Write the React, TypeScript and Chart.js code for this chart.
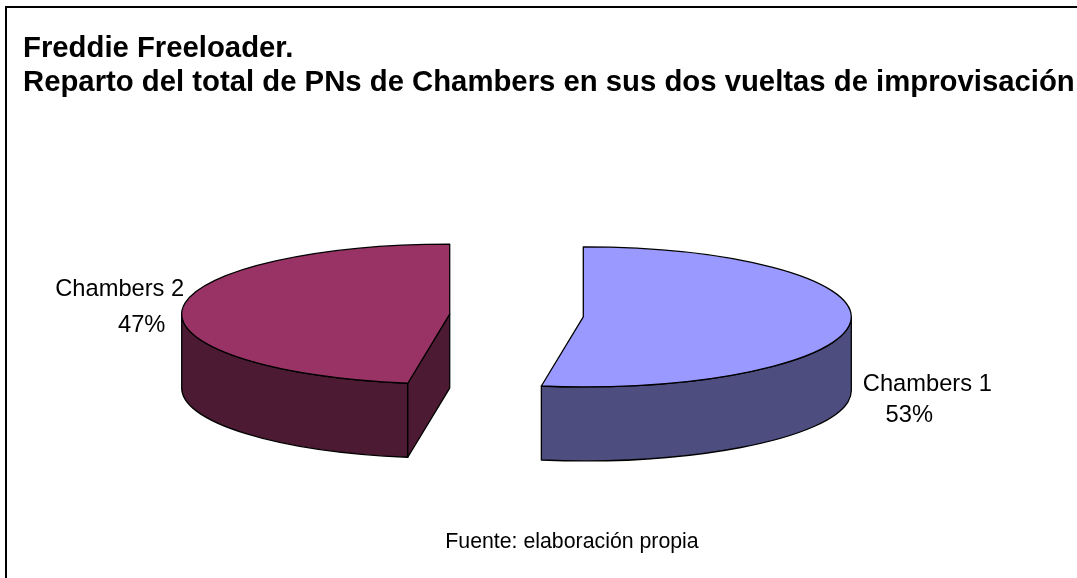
import React, { useEffect, useRef } from "react";
import { Chart, registerables } from "chart.js";

Chart.register(...registerables);

const categories = ["Chambers 1", "Chambers 2"];
const shares = [52.5, 47.5];
const percentLabels = ["53%", "47%"];
const titleLines = [
  "Freddie Freeloader.",
  "Reparto del total de PNs de Chambers en sus dos vueltas de improvisación",
];
const sourceNote = "Fuente: elaboración propia";
const topColors = ["#9999FF", "#993366"];
const wallColors = ["#4D4D80", "#4D1A33"];

const SQUASH = 70 / 268;
const DEPTH = 74;
const EXPLODE = 67;
const PIE_SHIFT = -33.5;
const FONT = '"Liberation Sans", Arial, sans-serif';
// label centre offsets, relative to the slice centre on screen
const nameOffsets = [
  [344, 67.5],
  [-330, -25],
];
const percentOffsets = [
  [326, 98.5],
  [-308, 11],
];

function geom(arc: any) {
  const { x, y, startAngle, endAngle, outerRadius } = arc.getProps(
    ["x", "y", "startAngle", "endAngle", "outerRadius"],
    true
  );
  const half = (startAngle + endAngle) / 2;
  return {
    x,
    y,
    cx: x + PIE_SHIFT + Math.cos(half) * EXPLODE,
    cy: y + Math.sin(half) * EXPLODE * SQUASH,
    rx: outerRadius,
    ry: outerRadius * SQUASH,
    a: startAngle,
    b: endAngle,
  };
}

const pie3d = {
  id: "pie3d",
  beforeDatasetDraw(chart: any) {
    const ctx = chart.ctx;
    const arcs = chart.getDatasetMeta(0).data;
    arcs.forEach((arc: any, i: number) => {
      const g = geom(arc);
      ctx.save();
      ctx.fillStyle = wallColors[i];
      ctx.strokeStyle = "#000";
      ctx.lineWidth = 1.3;
      ctx.lineJoin = "round";
      const from = Math.max(g.a, 0);
      const to = Math.min(g.b, Math.PI);
      if (to > from) {
        ctx.beginPath();
        ctx.ellipse(g.cx, g.cy, g.rx, g.ry, 0, from, to);
        ctx.ellipse(g.cx, g.cy + DEPTH, g.rx, g.ry, 0, to, from, true);
        ctx.closePath();
        ctx.fill();
        ctx.stroke();
      }
      const face = (t: number) => {
        const px = g.cx + Math.cos(t) * g.rx;
        const py = g.cy + Math.sin(t) * g.ry;
        ctx.beginPath();
        ctx.moveTo(g.cx, g.cy);
        ctx.lineTo(px, py);
        ctx.lineTo(px, py + DEPTH);
        ctx.lineTo(g.cx, g.cy + DEPTH);
        ctx.closePath();
        ctx.fill();
        ctx.stroke();
      };
      if (Math.cos(g.a) < -1e-6) face(g.a);
      if (Math.cos(g.b) > 1e-6) face(g.b);
      ctx.restore();

      // the slice's top: the library's own arc element, squashed and moved out
      ctx.save();
      ctx.translate(g.cx, g.cy);
      ctx.scale(1, SQUASH);
      ctx.translate(-g.x, -g.y);
      arc.draw(ctx);
      ctx.restore();

      ctx.save();
      ctx.strokeStyle = "#000";
      ctx.lineWidth = 1.3;
      ctx.lineJoin = "round";
      ctx.beginPath();
      ctx.moveTo(g.cx, g.cy);
      ctx.ellipse(g.cx, g.cy, g.rx, g.ry, 0, g.a, g.b);
      ctx.closePath();
      ctx.stroke();
      ctx.restore();
    });
    return false;
  },
  afterDatasetsDraw(chart: any) {
    const ctx = chart.ctx;
    const arcs = chart.getDatasetMeta(0).data;
    ctx.save();
    ctx.fillStyle = "#000";
    ctx.textAlign = "center";
    ctx.textBaseline = "middle";
    ctx.font = `23.7px ${FONT}`;
    arcs.forEach((arc: any, i: number) => {
      const g = geom(arc);
      ctx.fillText(categories[i], g.cx + nameOffsets[i][0], g.cy + nameOffsets[i][1]);
      ctx.fillText(percentLabels[i], g.cx + percentOffsets[i][0], g.cy + percentOffsets[i][1]);
    });
    ctx.font = `21.3px ${FONT}`;
    ctx.fillText(sourceNote, 572, 542.5);
    ctx.restore();
  },
  beforeDraw(chart: any) {
    const ctx = chart.ctx;
    ctx.save();
    ctx.fillStyle = "#fff";
    ctx.fillRect(0, 0, chart.width, chart.height);
    ctx.strokeStyle = "#000";
    ctx.lineWidth = 2;
    ctx.beginPath();
    ctx.moveTo(6, chart.height);
    ctx.lineTo(6, 7);
    ctx.lineTo(chart.width, 7);
    ctx.stroke();
    ctx.restore();
  },
};

export default function App() {
  const ref = useRef<HTMLCanvasElement | null>(null);
  useEffect(() => {
    const chart = new Chart(ref.current as HTMLCanvasElement, {
      type: "pie",
      data: {
        labels: categories,
        datasets: [
          {
            data: shares,
            backgroundColor: topColors,
            borderWidth: 0,
          } as any,
        ],
      },
      options: {
        responsive: false,
        animation: false,
        radius: 268,
        layout: { padding: { left: 23, right: 0, top: 0, bottom: 56 } },
        plugins: {
          legend: { display: false },
          tooltip: { enabled: false },
          title: {
            display: true,
            text: titleLines,
            align: "start",
            color: "#000",
            font: { family: FONT, size: 29.3, weight: "bold", lineHeight: 34 / 29.3 },
            padding: { top: 31.5, bottom: 9.5 },
          },
        },
      } as any,
      plugins: [pie3d],
    });
    return () => chart.destroy();
  }, []);
  return (
    <div style={{ position: "absolute", left: 0, top: 0 }}>
      <canvas ref={ref} width={1077} height={578} style={{ display: "block" }} />
    </div>
  );
}
